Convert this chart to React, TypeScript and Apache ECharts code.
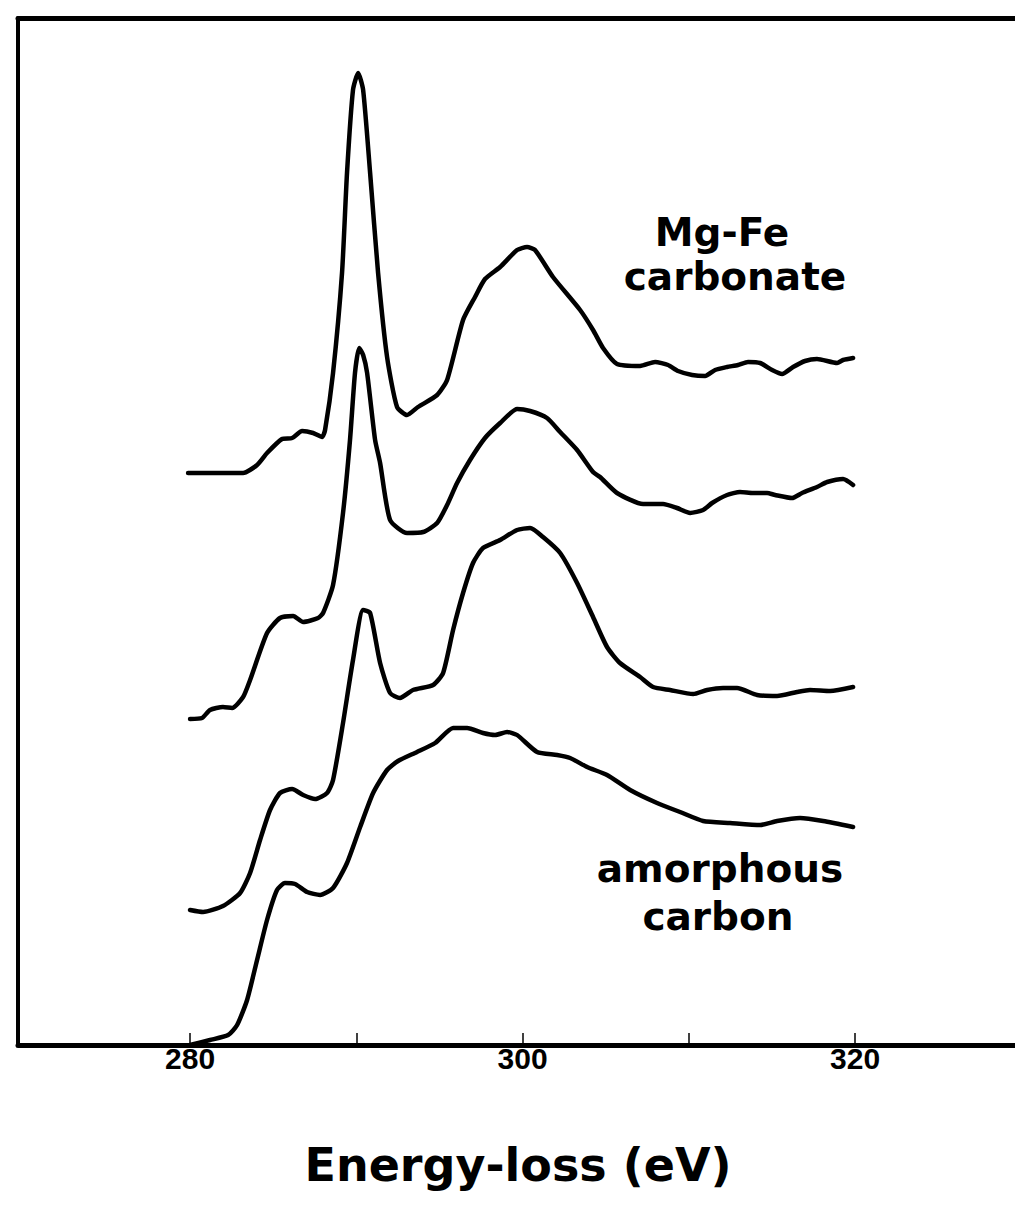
import React, { useEffect, useRef } from "react";
import * as echarts from "echarts";

// Energy-loss (eV) vs. stacked intensity (arbitrary units, offsets included)
const mgFeCarbonate: number[][] = [
  [279.88, 572], [283.19, 572], [284.03, 580], [284.63, 592], [285.53, 606], [286.14, 607],
  [286.74, 614], [287.4, 612], [287.94, 608], [288.12, 615], [288.6, 672], [289.14, 772],
  [289.44, 872], [289.8, 955], [290.11, 972], [290.41, 955], [290.83, 872], [291.31, 772],
  [291.85, 688], [292.45, 638], [293.05, 630], [293.71, 638], [294.86, 650], [295.46, 665],
  [296.42, 725], [297.14, 748], [297.74, 766], [298.65, 778], [299.67, 795], [300.27, 798],
  [300.75, 795], [301.83, 768], [303.46, 735], [304.24, 715], [304.84, 697], [305.68, 681],
  [307.07, 679], [307.97, 683], [308.75, 680], [309.35, 674], [310.2, 670], [310.98, 669],
  [311.58, 675], [312.3, 678], [312.96, 680], [313.56, 683], [314.29, 682], [315.01, 675],
  [315.61, 671], [316.27, 678], [316.99, 684], [317.71, 686], [318.92, 682], [319.28, 685],
  [319.88, 687],
];

const spectrumB: number[][] = [
  [280.0, 326], [280.72, 327], [281.2, 335], [281.98, 338], [282.53, 337], [283.19, 348],
  [283.61, 365], [284.63, 412], [285.41, 427], [286.2, 429], [286.8, 423], [287.7, 427],
  [288.0, 432], [288.6, 460], [289.2, 532], [289.62, 605], [289.92, 672], [290.17, 697],
  [290.41, 690], [290.65, 672], [291.13, 605], [291.43, 582], [292.03, 525], [293.05, 512],
  [294.02, 513], [294.86, 522], [295.46, 540], [296.06, 562], [296.84, 585], [297.74, 607],
  [298.65, 622], [299.67, 636], [300.45, 634], [301.47, 627], [302.26, 613], [303.28, 595],
  [304.24, 573], [304.66, 568], [305.68, 552], [307.25, 541], [308.45, 541], [309.29, 537],
  [310.08, 532], [310.86, 535], [311.4, 542], [312.3, 550], [313.08, 553], [313.86, 552],
  [314.71, 552], [315.19, 550], [316.21, 547], [316.81, 552], [317.71, 558], [318.32, 563],
  [319.28, 566], [319.88, 560],
];

const spectrumC: number[][] = [
  [280.0, 135], [280.78, 133], [281.98, 139], [283.01, 152], [283.61, 172], [284.21, 205],
  [284.81, 235], [285.41, 252], [286.14, 256], [286.8, 250], [287.52, 246], [288.24, 252],
  [288.6, 265], [289.2, 322], [289.8, 385], [290.41, 435], [290.83, 432], [291.43, 382],
  [292.03, 352], [292.63, 347], [293.41, 355], [294.62, 360], [295.22, 372], [295.82, 415],
  [296.42, 452], [297.02, 482], [297.62, 497], [298.65, 505], [299.67, 515], [300.45, 517],
  [301.23, 508], [302.26, 492], [303.28, 462], [304.24, 428], [305.08, 398], [305.86, 382],
  [307.07, 368], [307.85, 358], [308.87, 355], [310.26, 351], [311.1, 355], [312.06, 357],
  [312.9, 357], [314.11, 350], [315.31, 349], [316.51, 353], [317.29, 355], [318.5, 354],
  [319.88, 358],
];

const amorphousCarbon: number[][] = [
  [280.0, 0], [281.2, 5], [282.29, 10], [282.83, 20], [283.43, 45], [284.03, 85],
  [284.63, 125], [285.23, 155], [285.71, 162], [286.32, 161], [287.04, 153], [287.82, 150],
  [288.6, 157], [289.44, 182], [290.23, 218], [291.01, 252], [291.85, 275], [292.51, 284],
  [293.65, 293], [294.74, 302], [295.82, 317], [296.66, 317], [297.62, 312], [298.35, 310],
  [299.07, 313], [299.67, 310], [300.87, 293], [302.08, 290], [302.86, 287], [303.88, 278],
  [305.08, 270], [306.47, 255], [308.09, 242], [309.47, 233], [310.86, 224], [312.48, 222],
  [314.29, 220], [315.31, 224], [316.69, 227], [318.08, 224], [319.88, 218],
];

const tickValues = [280, 290, 300, 310, 320];
const labelValues = [280, 300, 320];
const curveLabels = ["Mg-Fe", "carbonate", "amorphous", "carbon"];
const axisTitle = "Energy-loss (eV)";

export default function App() {
  const ref = useRef<HTMLDivElement>(null);
  useEffect(() => {
    if (!ref.current) return;
    const chart = echarts.init(ref.current, undefined, { renderer: "svg" });
    const lineSeries = (name: string, data: number[][]) => ({
      name,
      type: "line",
      data,
      showSymbol: false,
      smooth: 0.2,
      lineStyle: { color: "#000", width: 4.5, join: "round", cap: "round" },
      z: 3,
    });
    const labelFont = {
      fontFamily: "DejaVu Sans",
      fontWeight: "bold",
      fontSize: 39,
      fill: "#000",
      textAlign: "center",
      textVerticalAlign: "middle",
    };
    const xMin = 269.65;
    const xMax = 329.62;
    chart.setOption({
      animation: false,
      backgroundColor: "#fff",
      grid: { left: 18, right: 0, top: 18, bottom: 168, show: false },
      xAxis: [
        {
          type: "value",
          position: "bottom",
          min: xMin,
          max: xMax,
          axisLine: { show: true, onZero: false, lineStyle: { color: "#000", width: 5 } },
          splitLine: { show: false },
          axisTick: {
            show: true,
            inside: true,
            length: 12,
            customValues: tickValues,
            lineStyle: { color: "#000", width: 1.5 },
          },
          axisLabel: {
            show: true,
            customValues: labelValues,
            color: "#000",
            fontFamily: "Liberation Sans",
            fontWeight: "bold",
            fontSize: 30,
            margin: -2,
          },
        },
        {
          type: "value",
          position: "top",
          min: xMin,
          max: xMax,
          axisLine: { show: true, onZero: false, lineStyle: { color: "#000", width: 5 } },
          axisTick: { show: false },
          axisLabel: { show: false },
          splitLine: { show: false },
        },
      ],
      yAxis: {
        type: "value",
        min: 0,
        max: 1027,
        axisLine: { show: true, onZero: false, lineStyle: { color: "#000", width: 4 } },
        axisTick: { show: false },
        axisLabel: { show: false },
        splitLine: { show: false },
      },
      series: [
        lineSeries("Mg-Fe carbonate", mgFeCarbonate),
        lineSeries("spectrum 2", spectrumB),
        lineSeries("spectrum 3", spectrumC),
        lineSeries("amorphous carbon", amorphousCarbon),
      ],
      graphic: [
        { type: "text", x: 722, y: 232, style: { ...labelFont, text: curveLabels[0] } },
        { type: "text", x: 735, y: 276, style: { ...labelFont, text: curveLabels[1] } },
        { type: "text", x: 720, y: 868, style: { ...labelFont, text: curveLabels[2] } },
        { type: "text", x: 718, y: 916, style: { ...labelFont, text: curveLabels[3] } },
        {
          type: "text",
          x: 518,
          y: 1165,
          style: { ...labelFont, fontSize: 46, text: axisTitle },
        },
      ],
    });
    return () => chart.dispose();
  }, []);
  return (
    <div
      ref={ref}
      style={{ position: "fixed", left: 0, top: 0, width: 1015, height: 1213, background: "#fff" }}
    />
  );
}
